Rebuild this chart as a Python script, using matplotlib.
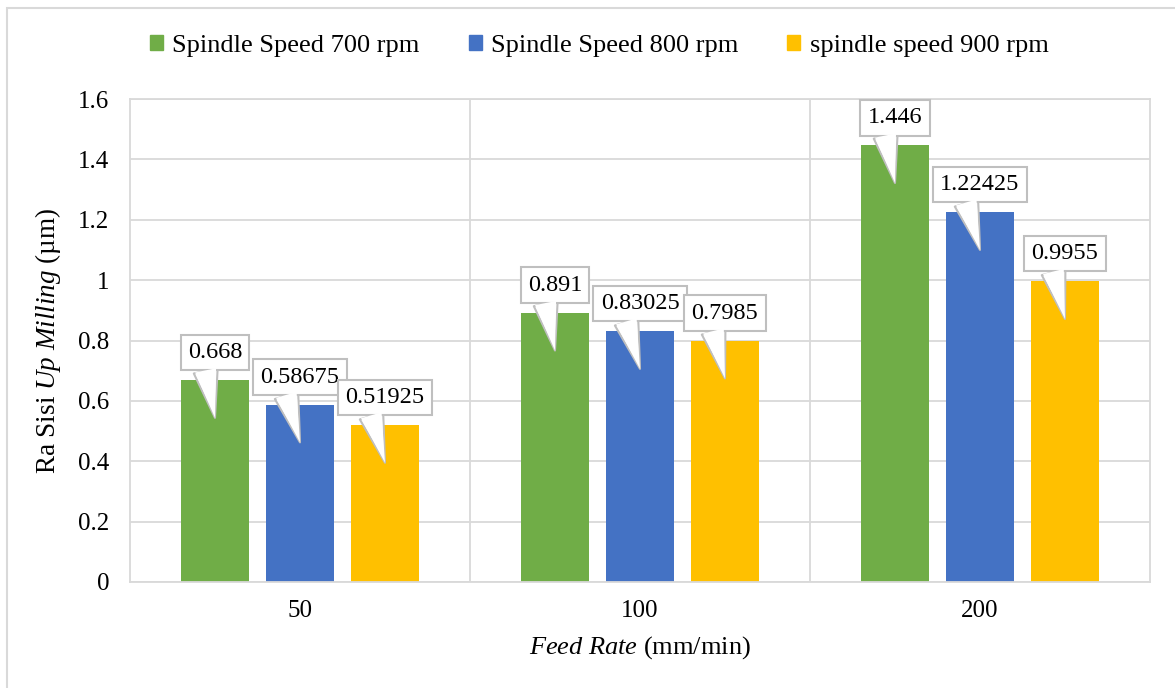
import numpy as np
import matplotlib
matplotlib.use('Agg')
import matplotlib.pyplot as plt
import matplotlib.transforms as mtransforms
from matplotlib.patches import Rectangle

plt.rcParams['font.family'] = ['Liberation Serif', 'DejaVu Serif']
plt.rcParams['mathtext.fontset'] = 'custom'
plt.rcParams['mathtext.rm'] = 'Liberation Serif'
plt.rcParams['mathtext.it'] = 'Liberation Serif:italic'

# data
feed_rates = ['50', '100', '200']
series_names = ['Spindle Speed 700 rpm', 'Spindle Speed 800 rpm', 'spindle speed 900 rpm']
ra_700 = [0.668, 0.891, 1.446]
ra_800 = [0.58675, 0.83025, 1.22425]
ra_900 = [0.51925, 0.7985, 0.9955]
label_700 = ['0.668', '0.891', '1.446']
label_800 = ['0.58675', '0.83025', '1.22425']
label_900 = ['0.51925', '0.7985', '0.9955']

colors = ['#70AD47', '#4472C4', '#FFC000']
grid_col = '#D9D9D9'
box_col = '#BFBFBF'

fig = plt.figure(figsize=(11.75, 6.88), dpi=100)
ax = fig.add_axes([130/1175, 106/688, 1020/1175, 483/688])

# light frame around the whole picture
fig.patches.append(Rectangle((7/1175, -0.1), 1.2, (688-8)/688 + 0.1,
                             transform=fig.transFigure, fill=False,
                             edgecolor='#D9D9D9', linewidth=1.5))

x = np.arange(len(feed_rates))
width = 0.2
offsets = [-0.25, 0, 0.25]
all_vals = [ra_700, ra_800, ra_900]
all_labels = [label_700, label_800, label_900]

for vals, off, col in zip(all_vals, offsets, colors):
    ax.bar(x + off, vals, width, color=col, zorder=2)

# callout labels: box above bar, wedge pointing down into the bar
tip = mtransforms.offset_copy(ax.transData, fig=fig, x=0, y=-27, units='points')
for vals, labs, off in zip(all_vals, all_labels, offsets):
    for xi, v, lab in zip(x, vals, labs):
        ax.annotate(lab, xy=(xi + off, v), xycoords=tip,
                    xytext=(0, 47), textcoords='offset points',
                    ha='center', va='center', fontsize=17.5, zorder=5,
                    bbox=dict(boxstyle='square,pad=0.3', fc='white', ec=box_col, lw=1.5),
                    arrowprops=dict(arrowstyle='wedge,tail_width=1.0,shrink_factor=0.5',
                                    fc='white', ec=box_col, lw=1.5,
                                    relpos=(0.3, 0.0), shrinkA=0, shrinkB=0))
        # white wedge on top to hide the box edge where the wedge joins
        ax.annotate(lab, xy=(xi + off, v), xycoords=tip,
                    xytext=(0, 47), textcoords='offset points',
                    ha='center', va='center', fontsize=17.5, zorder=6, color='none',
                    bbox=dict(boxstyle='square,pad=0.3', fc='none', ec='none', lw=1.5),
                    arrowprops=dict(arrowstyle='wedge,tail_width=0.88,shrink_factor=0.5',
                                    fc='white', ec='none', lw=0,
                                    relpos=(0.3, 0.0), shrinkA=0, shrinkB=0))

ax.set_xlim(-0.5, 2.5)
ax.set_ylim(0, 1.6)
ax.set_yticks(np.arange(0, 1.61, 0.2))
ax.set_yticklabels(['0', '0.2', '0.4', '0.6', '0.8', '1', '1.2', '1.4', '1.6'])
ax.set_xticks(x)
ax.set_xticklabels(feed_rates)
ax.set_xticks([0.5, 1.5], minor=True)
ax.tick_params(axis='both', which='both', length=0, labelsize=18)
ax.tick_params(axis='y', pad=15)
ax.tick_params(axis='x', pad=13)
ax.yaxis.grid(True, color=grid_col, lw=1.3, zorder=0)
ax.xaxis.grid(True, which='minor', color=grid_col, lw=1.3, zorder=0)
ax.set_axisbelow(True)
for s in ax.spines.values():
    s.set_color(grid_col)
    s.set_linewidth(1.3)

ax.set_ylabel(r'Ra Sisi $\mathit{Up\ Milling}$ (µm)', fontsize=19.5, labelpad=11)
ax.set_xlabel(r'$\mathit{Feed\ Rate}$ (mm/min)', fontsize=19, labelpad=9)

handles = [Rectangle((0, 0), 1, 1, color=c) for c in colors]
fig.legend(handles, series_names, loc='center', bbox_to_anchor=(0.51, 1 - 46/688),
           ncol=3, frameon=False, fontsize=19, handlelength=0.5, handleheight=0.5,
           handletextpad=0.35, columnspacing=1.85)

fig.savefig('out.png', dpi=100)
